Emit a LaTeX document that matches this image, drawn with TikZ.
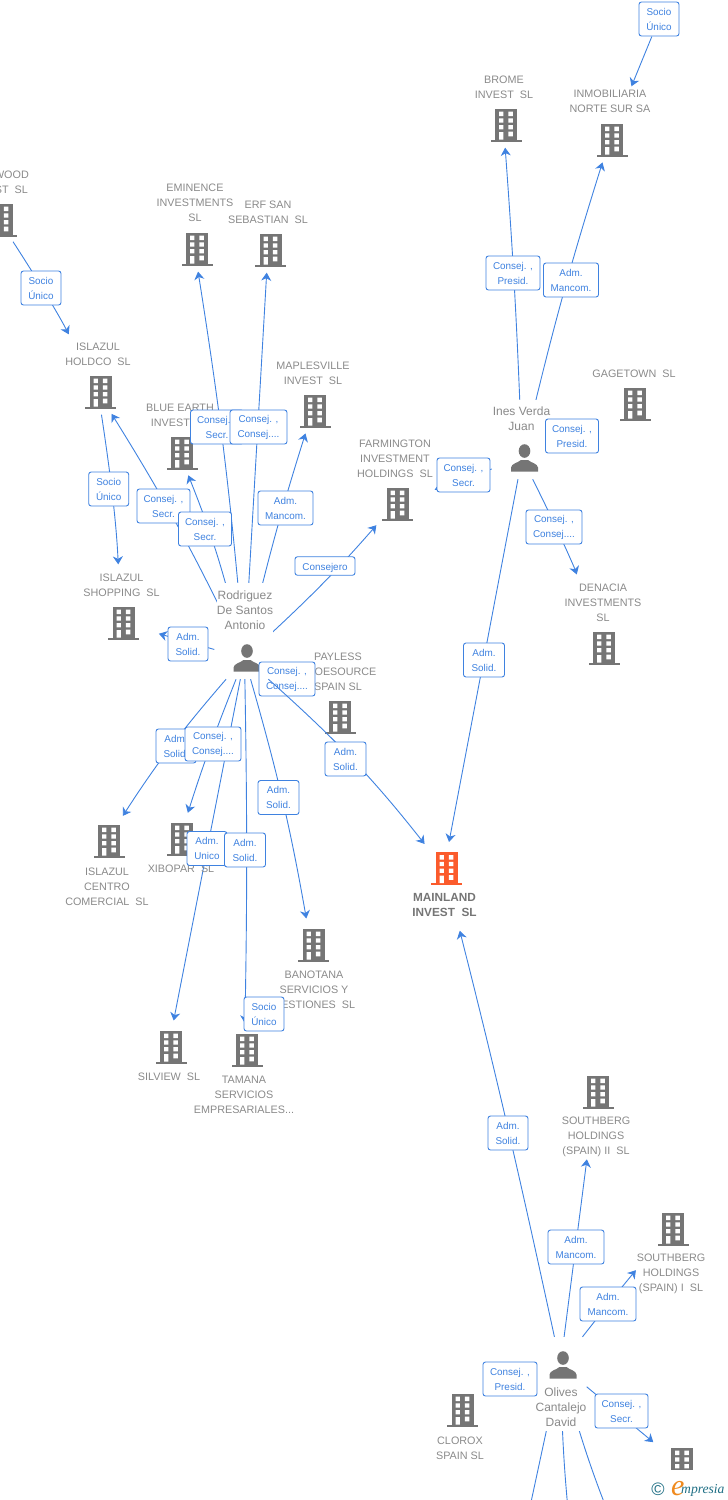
\documentclass[tikz,border=0pt]{standalone}
\usepackage{fontspec}
\setmainfont{Liberation Sans}
\newfontfamily\logofont{Liberation Serif}
\usetikzlibrary{arrows.meta}
\usetikzlibrary{backgrounds}
\definecolor{linkblue}{HTML}{3F82E0}
\definecolor{iconcol}{HTML}{757575}
\definecolor{namecol}{HTML}{8A8A8A}
\definecolor{mainred}{HTML}{FB5B2C}
\definecolor{logoteal}{HTML}{1F6F85}
\definecolor{logoorange}{HTML}{F08A1E}
\tikzset{
  bldg/.style={rectangle,inner sep=0,minimum width=60pt,minimum height=33pt,
    path picture={
      \fill[#1] (-8.5,-16.5) rectangle (13.5,15);
      \fill[#1] (-13,14.5) rectangle (18,16.5);
      \foreach \r in {-13.3,-6.7,0}
      \fill[white] (-4.5,\r) rectangle +(4.4,4.4) (4.9,\r) rectangle +(4.4,4.4);
      \fill[white] (4.9,6.7) rectangle +(4.4,4.6) (-4.5,7.2) rectangle (-0.1,14.5);
    }},
  bldg/.default=iconcol,
  person/.style={rectangle,inner sep=0,minimum width=60pt,minimum height=42pt,
    path picture={
      \fill[iconcol] (2.5,-7) ellipse (5.8 and 6.8);
      \fill[iconcol] (-11,13.5) -- (-11,9.5) .. controls (-10.5,5.5) and (-4.5,5) .. (-1,2)
        -- (6,2) .. controls (9.5,5) and (15.5,5.5) .. (16,9.5) -- (16,13.5) -- cycle;
    }},
  txt/.style={inner sep=0,align=center,text=namecol,yshift=-1pt,font=\fontsize{10.8}{15}\selectfont},
  who/.style={txt,fill=white,font=\fontsize{12}{15}\selectfont},
  lbl/.style={draw=linkblue,fill=white,rounded corners=2.5pt,line width=0.9pt,inner sep=0,
    minimum width=#1,minimum height=34pt,align=center,text=linkblue,
    execute at begin node={\rule{0pt}{11.5pt}},
    font=\fontsize{9.9}{15}\selectfont},
  link/.style={draw=linkblue,line width=0.9pt},
  tip/.style={->,shorten >=#1},
  tip/.default=10pt
}
\begin{document}
\begin{tikzpicture}[x=1pt,y=-1pt,>={Stealth[length=8pt,width=10pt,inset=2.5pt]}]
  \useasboundingbox (0,0) rectangle (728,1500);

  % companies
  \foreach \n / \x / \y in {wood/1.5/220, eminence/197/249, erf/270.5/250, holdco/100.5/392,
    maples/315/411, blue/182/453, farming/397.5/504, shopping/123.5/623, payless/340/717,
    centro/109/841, xibopar/182/839, banotana/313.5/945, silview/171/1047, tamana/247/1050,
    southii/598/1092, southi/673/1229, clorox/462.5/1410, lastco/682/1464,
    brome/506/125, inmob/612/140, gage/635/404, denacia/604/648}
  \node[bldg] (\n) at (\x-2.5,\y) {};
  \node[bldg=mainred] (mainland) at (444,868.5) {};

  % people
  \node[person] (rodriguez) at (244.5,658) {};
  \node[person,minimum width=60pt] (ines) at (522,458) {};
  \node[person,minimum width=52pt,minimum height=56pt] (olives) at (560.5,1365) {};

  % names
  \node[txt,anchor=east] (woodT) at (29,181.5) {WOOD\\ST~~SL};
  \node[txt] (eminenceT) at (195,202) {EMINENCE\\INVESTMENTS\\SL};
  \node[txt] (erfT) at (268,211.5) {ERF SAN\\SEBASTIAN~~SL};
  \node[txt] (holdcoT) at (98,353.5) {ISLAZUL\\HOLDCO~~SL};
  \node[txt] (maplesT) at (313,372.5) {MAPLESVILLE\\INVEST~~SL};
  \node[txt] (blueT) at (180,414.5) {BLUE EARTH\\INVEST~~SL};
  \node[txt] (farmingT) at (395,458) {FARMINGTON\\INVESTMENT\\HOLDINGS~~SL};
  \node[txt] (shoppingT) at (121.5,584.5) {ISLAZUL\\SHOPPING~~SL};
  \node[txt] (paylessT) at (338,671) {PAYLESS\\SHOESOURCE\\SPAIN SL};
  \node[txt] (centroT) at (107,886) {ISLAZUL\\CENTRO\\COMERCIAL~~SL};
  \node[txt] (xiboparT) at (181,868) {XIBOPAR~~SL};
  \node[txt] (banotanaT) at (314,989) {BANOTANA\\SERVICIOS Y\\GESTIONES~~SL};
  \node[txt] (silviewT) at (169,1076) {SILVIEW~~SL};
  \node[txt] (tamanaT) at (244,1094) {TAMANA\\SERVICIOS\\EMPRESARIALES...};
  \node[txt,text=iconcol,font=\fontsize{11.8}{15}\selectfont\bfseries] (mainlandT) at (444.5,903.5) {MAINLAND\\INVEST~~SL};
  \node[txt] (southiiT) at (596,1136) {SOUTHBERG\\HOLDINGS\\(SPAIN) II~~SL};
  \node[txt] (southiT) at (671,1273) {SOUTHBERG\\HOLDINGS\\(SPAIN) I~~SL};
  \node[txt] (cloroxT) at (460,1447.5) {CLOROX\\SPAIN SL};
  \node[txt] (bromeT) at (504,86.5) {BROME\\INVEST~~SL};
  \node[txt] (inmobT) at (610,100.5) {INMOBILIARIA\\NORTE SUR SA};
  \node[txt] (gageT) at (634,373) {GAGETOWN~~SL};
  \node[txt] (denaciaT) at (603,602) {DENACIA\\INVESTMENTS\\SL};
  \node[who,minimum height=55pt] (rodriguezT) at (245,609.5) {Rodriguez\\De Santos\\Antonio};
  \node[who,minimum height=37pt] (inesT) at (521.5,417.5) {Ines Verda\\Juan};
  \node[who,minimum height=47pt] (olivesT) at (561,1406.5) {Olives\\Cantalejo\\David};

  % boxes
  \node[lbl=40pt] (socioA) at (41,288) {Socio\\Único};
  \node[lbl=40pt] (socioB) at (108.7,489) {Socio\\Único};
  \node[lbl=53pt] (secrA) at (163.5,506) {Consej. ,\\Secr.};
  \node[lbl=53pt] (secrB) at (205,529) {Consej. ,\\Secr.};
  \node[lbl=53pt] (secrC) at (217,427) {Consej. ,\\Secr.};
  \node[lbl=57pt] (consC) at (258.5,427) {Consej. ,\\Consej....};
  \node[lbl=55pt] (mancA) at (285.5,508) {Adm.\\Mancom.};
  \node[lbl=60pt,minimum height=18.5pt] (consejero) at (325,566) {Consejero};
  \node[lbl=40pt] (solidA) at (188,644) {Adm.\\Solid.};
  \node[lbl=56pt] (consD) at (287,679) {Consej. ,\\Consej....};
  \node[lbl=40pt] (solidB) at (176,746) {Adm.\\Solid.};
  \node[lbl=56pt] (consE) at (213,744) {Consej. ,\\Consej....};
  \node[lbl=41pt] (solidC) at (278.5,797.5) {Adm.\\Solid.};
  \node[lbl=40pt] (unico) at (207,848.5) {Adm.\\Unico};
  \node[lbl=41pt] (solidD) at (245,850) {Adm.\\Solid.};
  \node[lbl=40pt] (socioC) at (264,1014) {Socio\\Único};
  \node[lbl=41pt] (solidE) at (484,660) {Adm.\\Solid.};
  \node[lbl=40pt] (socioD) at (659,19) {Socio\\Único};
  \node[lbl=54pt] (presidA) at (513,273) {Consej. ,\\Presid.};
  \node[lbl=55pt] (mancB) at (571,280) {Adm.\\Mancom.};
  \node[lbl=53pt] (presidB) at (572,436) {Consej. ,\\Presid.};
  \node[lbl=53pt] (secrD) at (463.5,475) {Consej. ,\\Secr.};
  \node[lbl=56pt] (consF) at (554,527) {Consej. ,\\Consej....};
  \node[lbl=40pt] (solidF) at (508,1133) {Adm.\\Solid.};
  \node[lbl=56pt] (mancC) at (576,1247) {Adm.\\Mancom.};
  \node[lbl=56pt] (mancD) at (608,1304) {Adm.\\Mancom.};
  \node[lbl=54pt] (presidC) at (510,1379) {Consej. ,\\Presid.};
  \node[lbl=53pt] (secrE) at (621.5,1411) {Consej. ,\\Secr.};

  % this line runs over the box below it
  \draw[link,tip] (rodriguez) to[bend left=5] (mainland);
  \node[lbl=41pt] (solidG) at (345.5,759) {Adm.\\Solid.};

  \coordinate (olivesA) at (525,1530);
  \coordinate (olivesB) at (570,1530);
  \coordinate (olivesC) at (615,1530);

  \begin{scope}[on background layer]
    \draw[link,tip=46pt,shorten <=6pt] (wood) to[bend left=3] (holdco);
    \draw[link,tip=42pt,shorten <=6pt] (holdco) to[bend left=3] (shopping);
    \draw[link,tip=6pt] (rodriguez) to[bend right=2] (eminence);
    \draw[link,tip=6pt] (rodriguez) to (erf);
    \draw[link,tip=6pt] (rodriguez) to[bend left=2] (maples);
    \draw[link,tip=6pt] (rodriguez) to[bend right=4] (blue);
    \draw[link,tip=6pt] (rodriguez) to[bend right=3] (holdco);
    \draw[link,tip=6pt] (rodriguez) to[bend right=3] (farming);
    \draw[link,tip=8pt] (rodriguez) to (shopping);
    \draw[link,tip] (rodriguez) to[bend right=4] (centro);
    \draw[link,tip] (rodriguez) to[bend right=2] (xibopar);
    \draw[link,tip] (rodriguez) to (silview);
    \draw[link,tip] (rodriguez) to[bend left=1] (tamana);
    \draw[link,tip] (rodriguez) to[bend left=3] (banotana);
    \draw[link,tip=40pt] (socioD) to (inmob);
    \draw[link,tip=6pt] (ines) to[bend right=1] (brome);
    \draw[link,tip=6pt] (ines) to[bend left=2] (inmob);
    \draw[link,tip] (ines) to (farming);
    \draw[link,tip=60pt] (ines) to[bend left=4] (denacia);
    \draw[link,tip] (ines) to (mainland);
    \draw[link,tip=47pt] (olives) to[bend right=1] (mainland);
    \draw[link,tip=51pt] (olives) to (southii);
    \draw[link,tip=32pt] (olives) to[bend left=1] (southi);
    \draw[link,tip=8pt] (olives) to (lastco);
    \draw[link] (olives) to (olivesA);
    \draw[link] (olives) to[bend right=2] (olivesB);
    \draw[link] (olives) to[bend right=3] (olivesC);
  \end{scope}

  % logo
  \node[fill=white,inner sep=0,minimum width=78pt,minimum height=30pt,anchor=south east] (logo) at (728,1500) {};
  \node[inner sep=0,anchor=base,text=logoteal,font=\fontsize{18}{18}\selectfont] (logoC) at (658,1495) {©};
  \node[inner sep=0,anchor=base west,text=logoorange,font=\logofont\itshape\fontsize{30}{30}\selectfont] (logoE) at (671,1495) {e};
  \node[inner sep=0,anchor=base west,text=logoteal,font=\logofont\itshape\fontsize{13.6}{14}\selectfont] (logoM) at (681,1493) {mpresia};
\end{tikzpicture}
\end{document}
